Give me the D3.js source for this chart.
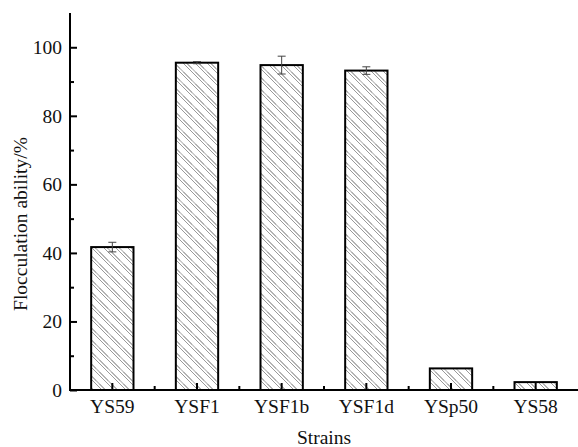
<!DOCTYPE html>
<html>
<head>
<meta charset="utf-8">
<script src="https://cdn.jsdelivr.net/npm/d3@7"></script>
<style>
  body { margin: 0; background: #fff; }
  text { font-family: "Liberation Serif", "Times New Roman", serif; fill: #111; }
</style>
</head>
<body>
<svg id="chart" width="578" height="447"></svg>
<script>
// data
let strains = ["YS59", "YSF1", "YSF1b", "YSF1d", "YSp50", "YS58"];
let ability = [41.7, 95.5, 94.8, 93.2, 6.3, 2.3];
let errors = [1.4, 0.3, 2.6, 1.1, 0, 0];
let yTicks = [0, 20, 40, 60, 80, 100];

let margin = {top: 13, left: 70, right: 0, bottom: 57};
let width = 578, height = 447;
let fontSize = "19.5px";

let svg = d3.select("#chart");

// hatch pattern, paired diagonal lines
let defs = svg.append("defs");
let s = 12;
let pat = defs.append("pattern")
    .attr("id", "hatch")
    .attr("patternUnits", "userSpaceOnUse")
    .attr("width", s).attr("height", s);
[0, 3.5].forEach(o => {
    pat.append("path")
        .attr("d", `M${o - s},0 L${o},${s} M${o},0 L${o + s},${s} M${o - s},${-s} L${o + s},${s}`)
        .attr("stroke", "#9a9a9a").attr("stroke-width", 1);
});

let xScale = d3.scalePoint()
    .domain(strains)
    .range([margin.left, width - margin.right])
    .padding(0.5);
let step = xScale.step();
let barW = step * 0.5;

let yScale = d3.scaleLinear()
    .domain([0, 110])
    .range([height - margin.bottom, margin.top]);

// bars
svg.append("g").selectAll("rect")
    .data(strains)
    .enter().append("rect")
    .attr("x", d => xScale(d) - barW / 2)
    .attr("y", (d, i) => yScale(ability[i]))
    .attr("width", barW)
    .attr("height", (d, i) => yScale(0) - yScale(ability[i]))
    .attr("fill", "url(#hatch)")
    .attr("stroke", "#000")
    .attr("stroke-width", 2);

// error bars
let eb = svg.append("g").attr("stroke", "#444").attr("stroke-width", 1);
strains.forEach((d, i) => {
    if (!errors[i]) return;
    let cx = xScale(d);
    let y1 = yScale(ability[i] + errors[i]), y2 = yScale(ability[i] - errors[i]);
    eb.append("line").attr("x1", cx).attr("x2", cx).attr("y1", y1).attr("y2", y2);
    eb.append("line").attr("x1", cx - 4).attr("x2", cx + 4).attr("y1", y1).attr("y2", y1);
    eb.append("line").attr("x1", cx - 4).attr("x2", cx + 4).attr("y1", y2).attr("y2", y2);
});

// y axis (ticks inside)
let yAxis = svg.append("g")
    .attr("transform", "translate(" + margin.left + ",0)")
    .call(d3.axisRight(yScale).tickValues(yTicks).tickSize(7).tickFormat(""));
yAxis.select(".domain").remove();
svg.append("g")
    .attr("transform", "translate(" + margin.left + ",0)")
    .call(d3.axisRight(yScale).tickValues(d3.range(10, 110, 20)).tickSize(4).tickFormat(""))
    .select(".domain").remove();
svg.selectAll(".tick line").attr("stroke", "#000").attr("stroke-width", 2);

svg.append("line")
    .attr("x1", margin.left).attr("x2", margin.left)
    .attr("y1", margin.top).attr("y2", yScale(0) + 1)
    .attr("stroke", "#000").attr("stroke-width", 2);

svg.append("g").selectAll("text")
    .data(yTicks)
    .enter().append("text")
    .attr("x", margin.left - 8)
    .attr("y", d => yScale(d))
    .attr("dy", "0.35em")
    .attr("text-anchor", "end")
    .style("font-size", fontSize)
    .text(d => d);

// x axis
let bottom = yScale(0);
svg.append("line")
    .attr("x1", margin.left - 1).attr("x2", width)
    .attr("y1", bottom).attr("y2", bottom)
    .attr("stroke", "#000").attr("stroke-width", 2);

let xt = svg.append("g").attr("stroke", "#000").attr("stroke-width", 2);
strains.forEach((d, i) => {
    let cx = xScale(d);
    xt.append("line").attr("x1", cx).attr("x2", cx).attr("y1", bottom).attr("y2", bottom - 7);
    if (i > 0) {
        let mx = cx - step / 2;
        xt.append("line").attr("x1", mx).attr("x2", mx).attr("y1", bottom).attr("y2", bottom - 4);
    }
});

svg.append("g").selectAll("text")
    .data(strains)
    .enter().append("text")
    .attr("x", d => xScale(d))
    .attr("y", bottom + 23)
    .attr("text-anchor", "middle")
    .style("font-size", fontSize)
    .text(d => d);

// axis titles
svg.append("text")
    .attr("x", (margin.left + width) / 2)
    .attr("y", 444)
    .attr("text-anchor", "middle")
    .style("font-size", fontSize)
    .text("Strains");

svg.append("text")
    .attr("transform", "translate(27,224) rotate(-90)")
    .attr("text-anchor", "middle")
    .style("font-size", fontSize)
    .text("Flocculation ability/%");
</script>
</body>
</html>
